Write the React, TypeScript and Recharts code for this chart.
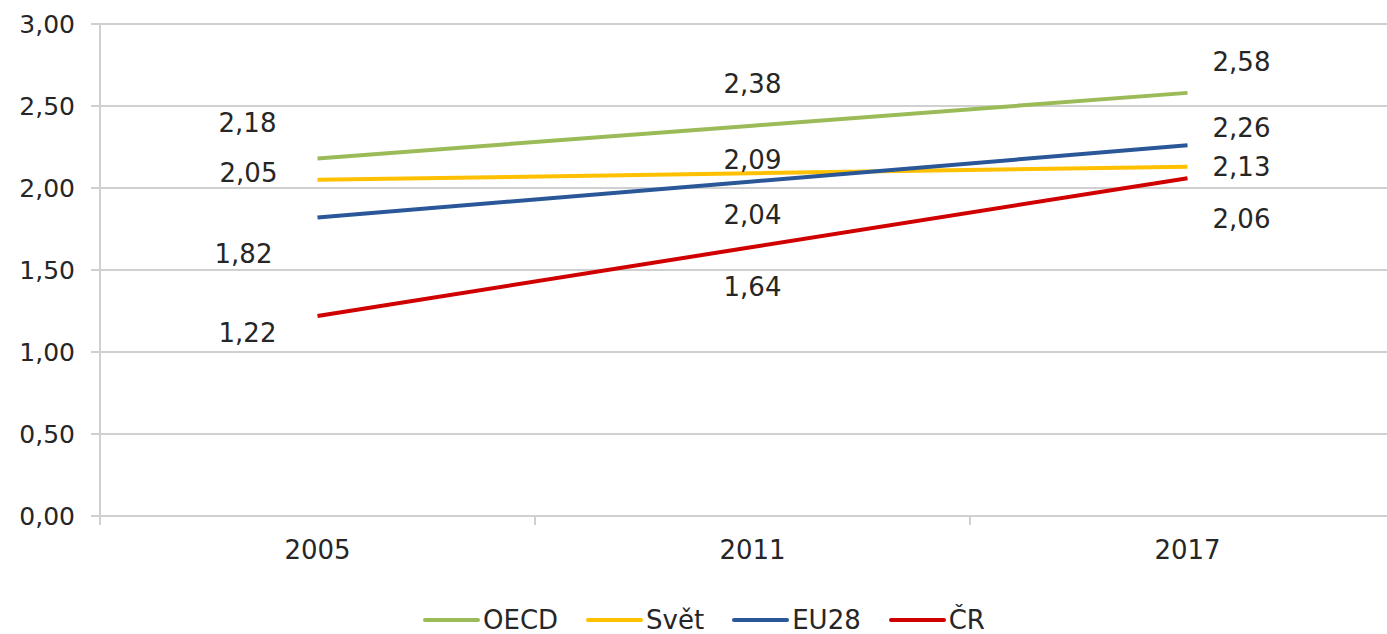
import React from 'react';
import { LineChart, Line, XAxis, YAxis, CartesianGrid, LabelList } from 'recharts';

const years = ['2005', '2011', '2017'];
const oecd = [2.18, 2.38, 2.58];
const svet = [2.05, 2.09, 2.13];
const eu28 = [1.82, 2.04, 2.26];
const cr = [1.22, 1.64, 2.06];
const yTicks = [0, 0.5, 1, 1.5, 2, 2.5, 3];

const series = [
  { key: 'OECD', values: oecd, color: '#9BBB59' },
  { key: 'Svět', values: svet, color: '#FFC000' },
  { key: 'EU28', values: eu28, color: '#2A5797' },
  { key: 'ČR', values: cr, color: '#D00000' },
];

// label offsets in px from each point (dx, dy), per series
const labelOffsets: Record<string, [number, number][]> = {
  OECD: [[-70, -36], [0, -42], [54, -31]],
  'Svět': [[-69, -7], [0, -14], [54, 0]],
  EU28: [[-74, 36], [0, 33], [54, -18]],
  'ČR': [[-70, 17], [0, 40], [54, 40]],
};

const data = years.map((y, i) => {
  const row: any = { idx: i, year: y };
  series.forEach((s) => (row[s.key] = s.values[i]));
  return row;
});

const fmt = (v: number) => v.toFixed(2).replace('.', ',');
const FONT = '"DejaVu Sans", Verdana, sans-serif';
const GRID = '#D0D0D0';
const TEXT = '#262626';

const XTick = (props: any) => {
  const { x, y, payload } = props;
  const v = payload.value;
  if (Number.isInteger(v)) {
    return (
      <text x={x} y={y + 43} textAnchor="middle" fill={TEXT} fontSize={26} fontFamily={FONT}>
        {years[v]}
      </text>
    );
  }
  return <line x1={x} x2={x} y1={y} y2={y + 9} stroke={GRID} strokeWidth={2} />;
};

const makeLabel = (key: string) => (props: any) => {
  const { x, y, value, index } = props;
  const [dx, dy] = labelOffsets[key][index];
  return (
    <text x={x + dx} y={y + dy} dy="0.36em" textAnchor="middle" fill={TEXT} fontSize={26} fontFamily={FONT}>
      {fmt(value)}
    </text>
  );
};

export default function App() {
  return (
    <div style={{ position: 'relative', width: 1387, height: 634, overflow: 'hidden', background: '#fff' }}>
      <style>{'body{margin:0;overflow:hidden}'}</style>
      <LineChart width={1420} height={634} data={data} margin={{ top: 24, right: 15, bottom: 0, left: 0 }}>
        <CartesianGrid vertical={false} stroke={GRID} strokeWidth={2} />
        <XAxis
          dataKey="idx"
          type="number"
          domain={[-0.5, 2.5]}
          ticks={[-0.5, 0, 0.5, 1, 1.5, 2]}
          interval={0}
          axisLine={false}
          tickLine={false}
          tickSize={0}
          tickMargin={0}
          height={118}
          tick={<XTick />}
        />
        <YAxis
          domain={[0, 3]}
          ticks={yTicks}
          width={100}
          interval={0}
          tickFormatter={fmt}
          axisLine={{ stroke: GRID, strokeWidth: 2 }}
          tickLine={{ stroke: GRID, strokeWidth: 2 }}
          tickSize={9}
          tickMargin={16}
          tick={{ fill: TEXT, fontSize: 25, fontFamily: FONT }}
        />
        {series.map((s) => (
          <Line
            key={s.key}
            dataKey={s.key}
            stroke={s.color}
            strokeWidth={4}
            dot={false}
            type="linear"
            isAnimationActive={false}
          >
            <LabelList dataKey={s.key} content={makeLabel(s.key)} />
          </Line>
        ))}
      </LineChart>
      <div
        style={{
          position: 'absolute',
          left: 423,
          top: 604,
          height: 32,
          display: 'flex',
          alignItems: 'center',
          fontFamily: FONT,
          fontSize: 26,
          color: TEXT,
        }}
      >
        {series.map((s) => (
          <div key={s.key} style={{ display: 'flex', alignItems: 'center', marginRight: 28 }}>
            <div style={{ width: 57, height: 4, background: s.color, borderRadius: 2, marginRight: 3 }} />
            <span>{s.key}</span>
          </div>
        ))}
      </div>
    </div>
  );
}
